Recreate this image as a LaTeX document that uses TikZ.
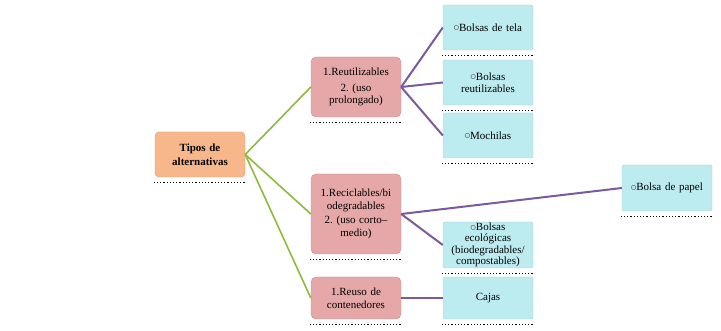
\documentclass[tikz,border=0pt]{standalone}
\usepackage{fontspec}
\setmainfont{Liberation Serif}
\newfontfamily\symfont{DejaVu Sans}
\newcommand{\bul}{\raisebox{1.3pt}{\symfont\fontsize{6}{6}\selectfont ○}}
\frenchspacing
\begin{document}
\begin{tikzpicture}[x=1pt,y=-1pt,
  base/.style={align=center,text width=88pt,minimum width=90pt,inner sep=1pt,font=\fontsize{11}{12.5}\selectfont\frenchspacing,text=black},
  rootbox/.style={base,fill=rootfill,draw=rootfill!85!black,rounded corners=4pt,minimum height=45pt,font=\fontsize{11}{13.5}\selectfont\bfseries},
  midbox/.style={base,fill=midfill,draw=midfill!85!black,rounded corners=5pt},
  leafbox/.style={base,fill=leaffill,draw=leaffill!90!black,rounded corners=1.5pt},
  gline/.style={draw=gcol,line width=1.6pt},
  pline/.style={draw=pcol,line width=2pt},
  shad/.style={draw=black,dotted,line width=1.2pt}
]
\definecolor{rootfill}{HTML}{F8B78A}
\definecolor{midfill}{HTML}{E6A7A8}
\definecolor{leaffill}{HTML}{BCEBF0}
\definecolor{gcol}{HTML}{8DBB3E}
\definecolor{pcol}{HTML}{7A5A9E}
\useasboundingbox (0,0) rectangle (721,331);

\node[rootbox] (root) at (200,154.5) {Tipos de\\alternativas};
\node[midbox,minimum height=60pt] (reut) at (356,87) {1.Reutilizables\\[3pt]2. (uso\\prolongado)};
\node[midbox,minimum height=80pt] (recic) at (356,214) {1.Reciclables/bi\\odegradables\\[2pt]2. (uso corto–\\medio)};
\node[midbox,minimum height=42pt] (reuso) at (356,298) {1.Reuso de\\contenedores};

\node[leafbox,minimum height=45pt] (tela) at (488,27.5) {\bul Bolsas de tela};
\node[leafbox,minimum height=45pt] (breut) at (488,82.5) {\bul Bolsas\\reutilizables};
\node[leafbox,minimum height=45pt] (moch) at (488,135.5) {\bul Mochilas};
\node[leafbox,minimum height=46pt,inner sep=0pt,font=\fontsize{11}{11.5}\selectfont] (eco) at (488,245) {\bul Bolsas\\ecológicas\\(biodegradables/\\compostables)};
\node[leafbox,minimum height=42pt] (cajas) at (488,298) {Cajas};
\node[leafbox,minimum height=46pt] (papel) at (667,188) {\bul Bolsa de papel};

\foreach \n in {root,reut,recic,reuso,tela,breut,moch,eco,cajas,papel}{
  \draw[shad] ([xshift=-1pt,yshift=-5pt]\n.south west) -- ([xshift=1pt,yshift=-5pt]\n.south east);
}

\draw[gline] (root.east) -- (reut.west);
\draw[gline] (root.east) -- (recic.west);
\draw[gline] (root.east) -- (reuso.west);

\draw[pline] (reut.east) -- (tela.west);
\draw[pline] (reut.east) -- (breut.west);
\draw[pline] (reut.east) -- (moch.west);
\draw[pline] (recic.east) -- (papel.west);
\draw[pline] (recic.east) -- (eco.west);
\draw[pline] (reuso.east) -- (cajas.west);
\end{tikzpicture}
\end{document}
